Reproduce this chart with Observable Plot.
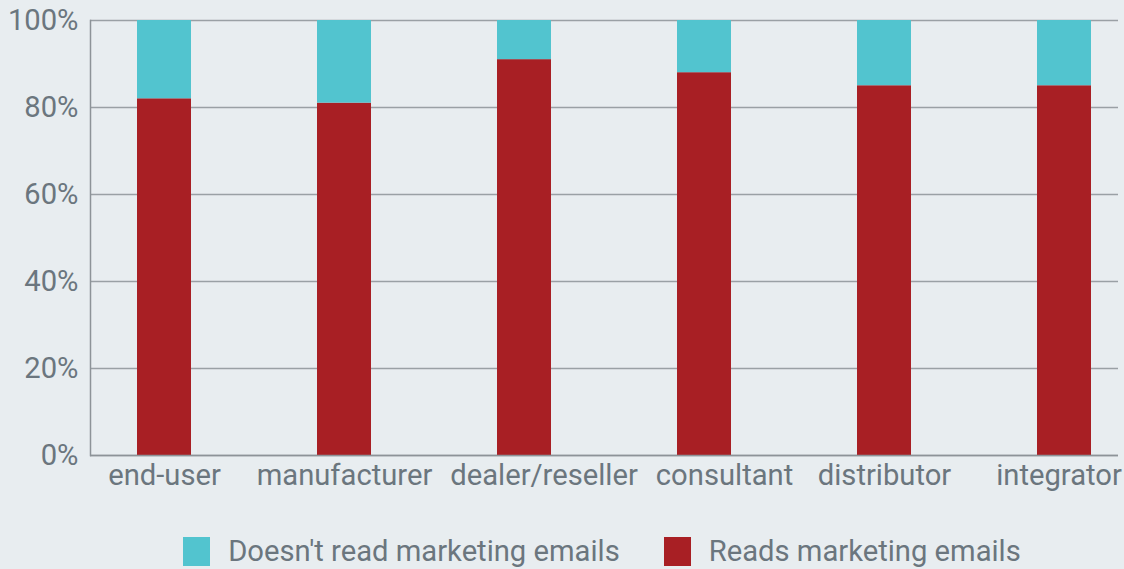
<!DOCTYPE html>
<html>
<head>
<meta charset="utf-8">
<script src="https://cdn.jsdelivr.net/npm/d3@7"></script>
<script src="https://cdn.jsdelivr.net/npm/@observablehq/plot@0.6"></script>
<style>
  html, body { margin: 0; padding: 0; background: #e8edf0; }
  body { width: 1124px; height: 569px; overflow: hidden; font-family: Roboto, "Noto Sans", sans-serif; }
  #legend { display: flex; justify-content: center; align-items: center; height: 59px; padding-left: 80px; padding-top: 23px; box-sizing: border-box; width: 1124px; color: #6b767e; font-size: 29.2px; }
  .item { display: flex; align-items: center; margin: 0 22px; }
  .sw { width: 27px; height: 29px; margin-right: 18px; }
</style>
</head>
<body>
<div id="chart"></div>
<div id="legend"></div>
<script>
const categories = ["end-user", "manufacturer", "dealer/reseller", "consultant", "distributor", "integrator"];
const reads = [82, 81, 91, 88, 85, 85];
const doesntRead = [18, 19, 9, 12, 15, 15];
const seriesNames = ["Doesn't read marketing emails", "Reads marketing emails"];
const seriesColors = ["#52c4cf", "#a81f24"];
const yTicks = [0, 20, 40, 60, 80, 100];

const data = [];
categories.forEach((c, i) => {
  data.push({category: c, series: seriesNames[1], value: reads[i]});
  data.push({category: c, series: seriesNames[0], value: doesntRead[i]});
});

const textColor = "#6b767e";
const fontFamily = "Roboto, 'Noto Sans', sans-serif";
const fontSize = 29.2;

// band layout
const xRange = [73.7, 1153.7];
const xScale = d3.scaleBand().domain(categories).range(xRange).paddingInner(0.7).paddingOuter(0.35);

// resolve label overlap: shift labels when they would collide or leave the picture
const ctx = document.createElement("canvas").getContext("2d");
ctx.font = `${fontSize}px Roboto`;
const minGap = 18;
const rightLimit = 1121;
const widths = categories.map(c => ctx.measureText(c).width);
const lefts = categories.map((c, i) => xScale(c) + xScale.bandwidth() / 2 - widths[i] / 2);
const placed = lefts.slice();
for (let i = 1; i < placed.length; i++) {
  const minLeft = placed[i - 1] + widths[i - 1] + minGap;
  if (placed[i] < minLeft) placed[i] = minLeft;
}
for (let i = placed.length - 1; i >= 0; i--) {
  const maxRight = i === placed.length - 1 ? rightLimit : placed[i + 1] - minGap;
  if (placed[i] + widths[i] > maxRight) placed[i] = maxRight - widths[i];
}
const offsets = placed.map((p, i) => p - lefts[i]);

const plot = Plot.plot({
  width: 1124,
  height: 510,
  marginTop: 20,
  marginBottom: 55,
  marginLeft: 90,
  marginRight: 6,
  style: {background: "#e8edf0", fontFamily, fontSize: fontSize + "px", color: textColor},
  x: {type: "band", domain: categories, range: xRange, paddingInner: 0.7, paddingOuter: 0.35, label: null, axis: null},
  y: {domain: [0, 100], label: null},
  color: {domain: seriesNames, range: seriesColors},
  marks: [
    Plot.gridY(yTicks, {stroke: "#9aa0a5", strokeOpacity: 1, strokeWidth: 1.5}),
    Plot.barY(data, {x: "category", y: "value", fill: "series", order: [seriesNames[1], seriesNames[0]]}),
    Plot.frame({anchor: "left", stroke: "#8d9398", strokeWidth: 1.5}),
    Plot.ruleY([0], {stroke: "#8d9398", strokeWidth: 1.5}),
    Plot.axisY(yTicks, {tickSize: 0, tickPadding: 12, tickFormat: d => d + "%", fill: textColor, fontSize}),
    ...categories.map((c, i) => Plot.text([c], {x: d => d, text: d => d, frameAnchor: "bottom", lineAnchor: "top", dy: 9, dx: offsets[i], fill: textColor, fontSize}))
  ]
});
document.getElementById("chart").appendChild(plot);

const legend = document.getElementById("legend");
seriesNames.forEach((s, i) => {
  const item = document.createElement("div");
  item.className = "item";
  const sw = document.createElement("div");
  sw.className = "sw";
  sw.style.background = seriesColors[i];
  const t = document.createElement("span");
  t.textContent = s;
  item.appendChild(sw);
  item.appendChild(t);
  legend.appendChild(item);
});
</script>
</body>
</html>
